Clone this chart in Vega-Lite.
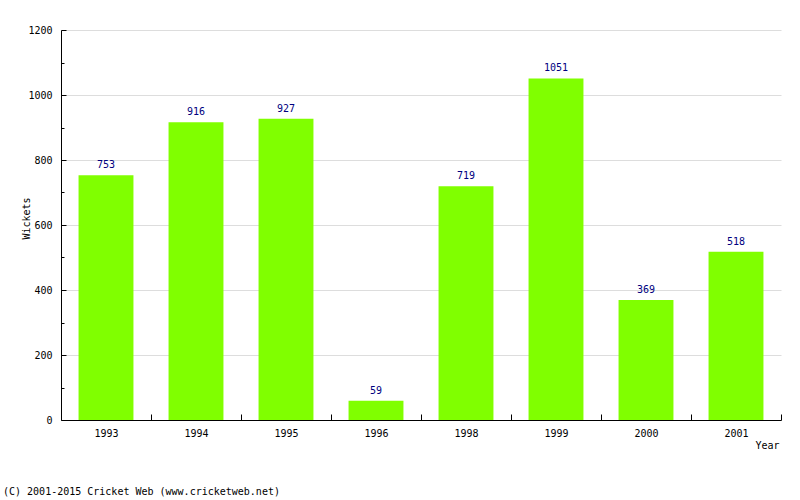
{
  "$schema": "https://vega.github.io/schema/vega-lite/v6.json",
  "width": 720,
  "height": 390,
  "autosize": "none",
  "padding": {"left": 61, "top": 30, "right": 19, "bottom": 80},
  "background": "white",
  "config": {"view": {"stroke": null}, "font": "DejaVu Sans Mono"},
  "title": {
    "text": "(C) 2001-2015 Cricket Web (www.cricketweb.net)",
    "orient": "top",
    "anchor": "start",
    "frame": "group",
    "offset": 0,
    "baseline": "alphabetic",
    "dx": -58,
    "dy": 480,
    "font": "DejaVu Sans Mono",
    "fontSize": 10,
    "fontWeight": "normal",
    "color": "black"
  },
  "data": {
    "values": [
      {"Year": "1993", "Wickets": 753},
      {"Year": "1994", "Wickets": 916},
      {"Year": "1995", "Wickets": 927},
      {"Year": "1996", "Wickets": 59},
      {"Year": "1998", "Wickets": 719},
      {"Year": "1999", "Wickets": 1051},
      {"Year": "2000", "Wickets": 369},
      {"Year": "2001", "Wickets": 518}
    ]
  },
  "encoding": {
    "x": {
      "field": "Year",
      "type": "ordinal",
      "scale": {"paddingInner": 0.39, "paddingOuter": 0.195},
      "axis": {
        "tickOffset": 45,
        "labelOffset": -45,
        "tickSize": -6,
        "tickColor": "black",
        "domainColor": "black",
        "labelAngle": 0,
        "labelPadding": 14,
        "labelFont": "DejaVu Sans Mono",
        "labelFontSize": 10,
        "labelColor": "black",
        "grid": false,
        "title": "Year",
        "titleFont": "DejaVu Sans Mono",
        "titleFontSize": 10,
        "titleFontWeight": "normal",
        "titleColor": "black",
        "titleAnchor": "end",
        "titleAlign": "right",
        "titleBaseline": "top",
        "titleX": 718,
        "titleY": 20
      }
    },
    "y": {
      "field": "Wickets",
      "type": "quantitative",
      "scale": {"domain": [0, 1200], "nice": false},
      "axis": {
        "values": [0, 100, 200, 300, 400, 500, 600, 700, 800, 900, 1000, 1100, 1200],
        "labelExpr": "datum.value % 200 === 0 ? datum.label : ''",
        "format": "d",
        "tickSize": {"condition": {"test": "datum.value % 200 === 0", "value": -5}, "value": -3},
        "tickColor": "black",
        "domainColor": "black",
        "grid": true,
        "gridColor": "#dddddd",
        "gridOpacity": {"condition": {"test": "datum.value % 200 === 0 && datum.value > 0", "value": 1}, "value": 0},
        "labelPadding": 14,
        "labelFont": "DejaVu Sans Mono",
        "labelFontSize": 10,
        "labelColor": "black",
        "title": "Wickets",
        "titleFont": "DejaVu Sans Mono",
        "titleFontSize": 10,
        "titleFontWeight": "normal",
        "titleColor": "black",
        "titleAngle": -90,
        "titleAlign": "center",
        "titleBaseline": "middle",
        "titleX": -35,
        "titleY": 188
      }
    }
  },
  "layer": [
    {"mark": {"type": "bar", "color": "#80ff00"}},
    {
      "mark": {"type": "text", "baseline": "alphabetic", "dy": -7, "color": "#000080", "font": "DejaVu Sans Mono", "fontSize": 10},
      "encoding": {"text": {"field": "Wickets", "type": "quantitative"}}
    }
  ]
}
